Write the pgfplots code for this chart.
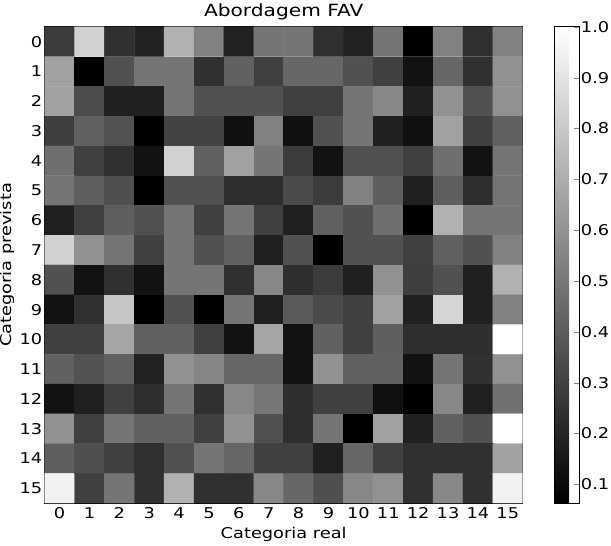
\documentclass[border=0pt]{standalone}
\usepackage{fontspec}
\setmainfont{DejaVu Sans}[FakeStretch=1.2]
\usepackage{pgfplots}
\pgfplotsset{compat=1.18}

\begin{document}
\begin{tikzpicture}[trim left=-45bp, trim right=571bp]
\begin{axis}[
    at={(0,0)}, anchor=south west,
    scale only axis,
    width=482bp, height=480bp,
    font=\fontsize{15}{18}\selectfont,
    title={Abordagem FAV},
    title style={at={(axis description cs:0.5,1)}, anchor=base, yshift=5bp, font=\fontsize{17}{20}\selectfont},
    xlabel={Categoria real},
    xlabel style={at={(axis description cs:0.5,0)}, anchor=base, yshift=-36bp},
    ylabel={Categoria prevista},
    ylabel style={at={(axis description cs:-0.07,0.5)}, anchor=base},
    xmin=-0.5, xmax=15.5, ymin=-0.5, ymax=15.5,
    y dir=reverse,
    enlargelimits=false,
    xtick={0,...,15}, ytick={0,...,15},
    xticklabel style={yshift=-1bp},
    yticklabel style={xshift=1bp},
    tick pos=both,
    tick align=inside,
    major tick length=5bp,
    axis line style={line width=1bp},
    /pgf/number format/assume math mode=true,
    colormap={bw}{gray(0cm)=(0); gray(1cm)=(1)},
    point meta min=0.063, point meta max=1.0,
    colorbar,
    colorbar style={
        width=25bp,
        at={(parent axis.north east)}, anchor=north west, xshift=24bp,
        font=\fontsize{15}{18}\selectfont,
        ytick={0.1,0.2,0.3,0.4,0.5,0.6,0.7,0.8,0.9,1.0},
        yticklabel style={/pgf/number format/.cd, fixed, fixed zerofill, precision=1, assume math mode=true,
            /tikz/.cd, inner xsep=0pt, xshift=1bp},
        ytick pos=right,
        tick align=inside,
        major tick length=6bp,
        axis line style={line width=1bp},
    },
]
\addplot[matrix plot*, mesh/cols=16, point meta=explicit] coordinates {
(0,0)[0.283] (1,0)[0.827] (2,0)[0.239] (3,0)[0.188] (4,0)[0.710] (5,0)[0.533] (6,0)[0.188] (7,0)[0.489] (8,0)[0.489] (9,0)[0.239] (10,0)[0.188] (11,0)[0.489] (12,0)[0.063] (13,0)[0.533] (14,0)[0.239] (15,0)[0.533]
(0,1)[0.651] (1,1)[0.063] (2,1)[0.357] (3,1)[0.489] (4,1)[0.489] (5,1)[0.239] (6,1)[0.416] (7,1)[0.298] (8,1)[0.438] (9,1)[0.438] (10,1)[0.357] (11,1)[0.298] (12,1)[0.129] (13,1)[0.438] (14,1)[0.239] (15,1)[0.592]
(0,2)[0.651] (1,2)[0.342] (2,2)[0.181] (3,2)[0.181] (4,2)[0.489] (5,2)[0.357] (6,2)[0.357] (7,2)[0.357] (8,2)[0.298] (9,2)[0.298] (10,2)[0.489] (11,2)[0.555] (12,2)[0.181] (13,2)[0.592] (14,2)[0.357] (15,2)[0.592]
(0,3)[0.291] (1,3)[0.416] (2,3)[0.364] (3,3)[0.063] (4,3)[0.306] (5,3)[0.306] (6,3)[0.122] (7,3)[0.533] (8,3)[0.122] (9,3)[0.357] (10,3)[0.489] (11,3)[0.181] (12,3)[0.122] (13,3)[0.651] (14,3)[0.298] (15,3)[0.416]
(0,4)[0.467] (1,4)[0.298] (2,4)[0.239] (3,4)[0.129] (4,4)[0.827] (5,4)[0.416] (6,4)[0.651] (7,4)[0.489] (8,4)[0.283] (9,4)[0.129] (10,4)[0.357] (11,4)[0.357] (12,4)[0.298] (13,4)[0.467] (14,4)[0.129] (15,4)[0.489]
(0,5)[0.489] (1,5)[0.408] (2,5)[0.350] (3,5)[0.063] (4,5)[0.357] (5,5)[0.357] (6,5)[0.232] (7,5)[0.232] (8,5)[0.335] (9,5)[0.283] (10,5)[0.533] (11,5)[0.408] (12,5)[0.181] (13,5)[0.408] (14,5)[0.232] (15,5)[0.489]
(0,6)[0.181] (1,6)[0.298] (2,6)[0.408] (3,6)[0.357] (4,6)[0.489] (5,6)[0.298] (6,6)[0.489] (7,6)[0.298] (8,6)[0.181] (9,6)[0.416] (10,6)[0.357] (11,6)[0.467] (12,6)[0.063] (13,6)[0.710] (14,6)[0.489] (15,6)[0.489]
(0,7)[0.827] (1,7)[0.592] (2,7)[0.489] (3,7)[0.298] (4,7)[0.489] (5,7)[0.357] (6,7)[0.416] (7,7)[0.181] (8,7)[0.357] (9,7)[0.063] (10,7)[0.357] (11,7)[0.357] (12,7)[0.298] (13,7)[0.416] (14,7)[0.357] (15,7)[0.533]
(0,8)[0.357] (1,8)[0.129] (2,8)[0.239] (3,8)[0.129] (4,8)[0.489] (5,8)[0.489] (6,8)[0.239] (7,8)[0.555] (8,8)[0.232] (9,8)[0.283] (10,8)[0.181] (11,8)[0.592] (12,8)[0.291] (13,8)[0.357] (14,8)[0.181] (15,8)[0.710]
(0,9)[0.129] (1,9)[0.239] (2,9)[0.783] (3,9)[0.063] (4,9)[0.357] (5,9)[0.063] (6,9)[0.489] (7,9)[0.181] (8,9)[0.394] (9,9)[0.335] (10,9)[0.298] (11,9)[0.651] (12,9)[0.181] (13,9)[0.842] (14,9)[0.181] (15,9)[0.533]
(0,10)[0.298] (1,10)[0.298] (2,10)[0.666] (3,10)[0.416] (4,10)[0.416] (5,10)[0.298] (6,10)[0.129] (7,10)[0.666] (8,10)[0.129] (9,10)[0.416] (10,10)[0.298] (11,10)[0.408] (12,10)[0.232] (13,10)[0.232] (14,10)[0.232] (15,10)[1.000]
(0,11)[0.416] (1,11)[0.364] (2,11)[0.416] (3,11)[0.188] (4,11)[0.592] (5,11)[0.548] (6,11)[0.438] (7,11)[0.438] (8,11)[0.129] (9,11)[0.592] (10,11)[0.416] (11,11)[0.416] (12,11)[0.129] (13,11)[0.489] (14,11)[0.239] (15,11)[0.592]
(0,12)[0.129] (1,12)[0.181] (2,12)[0.298] (3,12)[0.232] (4,12)[0.489] (5,12)[0.239] (6,12)[0.555] (7,12)[0.497] (8,12)[0.232] (9,12)[0.298] (10,12)[0.298] (11,12)[0.122] (12,12)[0.063] (13,12)[0.555] (14,12)[0.181] (15,12)[0.475]
(0,13)[0.592] (1,13)[0.298] (2,13)[0.489] (3,13)[0.416] (4,13)[0.416] (5,13)[0.298] (6,13)[0.592] (7,13)[0.357] (8,13)[0.232] (9,13)[0.489] (10,13)[0.063] (11,13)[0.651] (12,13)[0.181] (13,13)[0.416] (14,13)[0.357] (15,13)[1.000]
(0,14)[0.408] (1,14)[0.350] (2,14)[0.298] (3,14)[0.239] (4,14)[0.357] (5,14)[0.489] (6,14)[0.438] (7,14)[0.298] (8,14)[0.298] (9,14)[0.181] (10,14)[0.438] (11,14)[0.298] (12,14)[0.239] (13,14)[0.239] (14,14)[0.239] (15,14)[0.651]
(0,15)[0.945] (1,15)[0.298] (2,15)[0.489] (3,15)[0.239] (4,15)[0.710] (5,15)[0.239] (6,15)[0.239] (7,15)[0.555] (8,15)[0.438] (9,15)[0.350] (10,15)[0.555] (11,15)[0.592] (12,15)[0.239] (13,15)[0.555] (14,15)[0.239] (15,15)[0.945]
};
\end{axis}
\end{tikzpicture}
\end{document}
